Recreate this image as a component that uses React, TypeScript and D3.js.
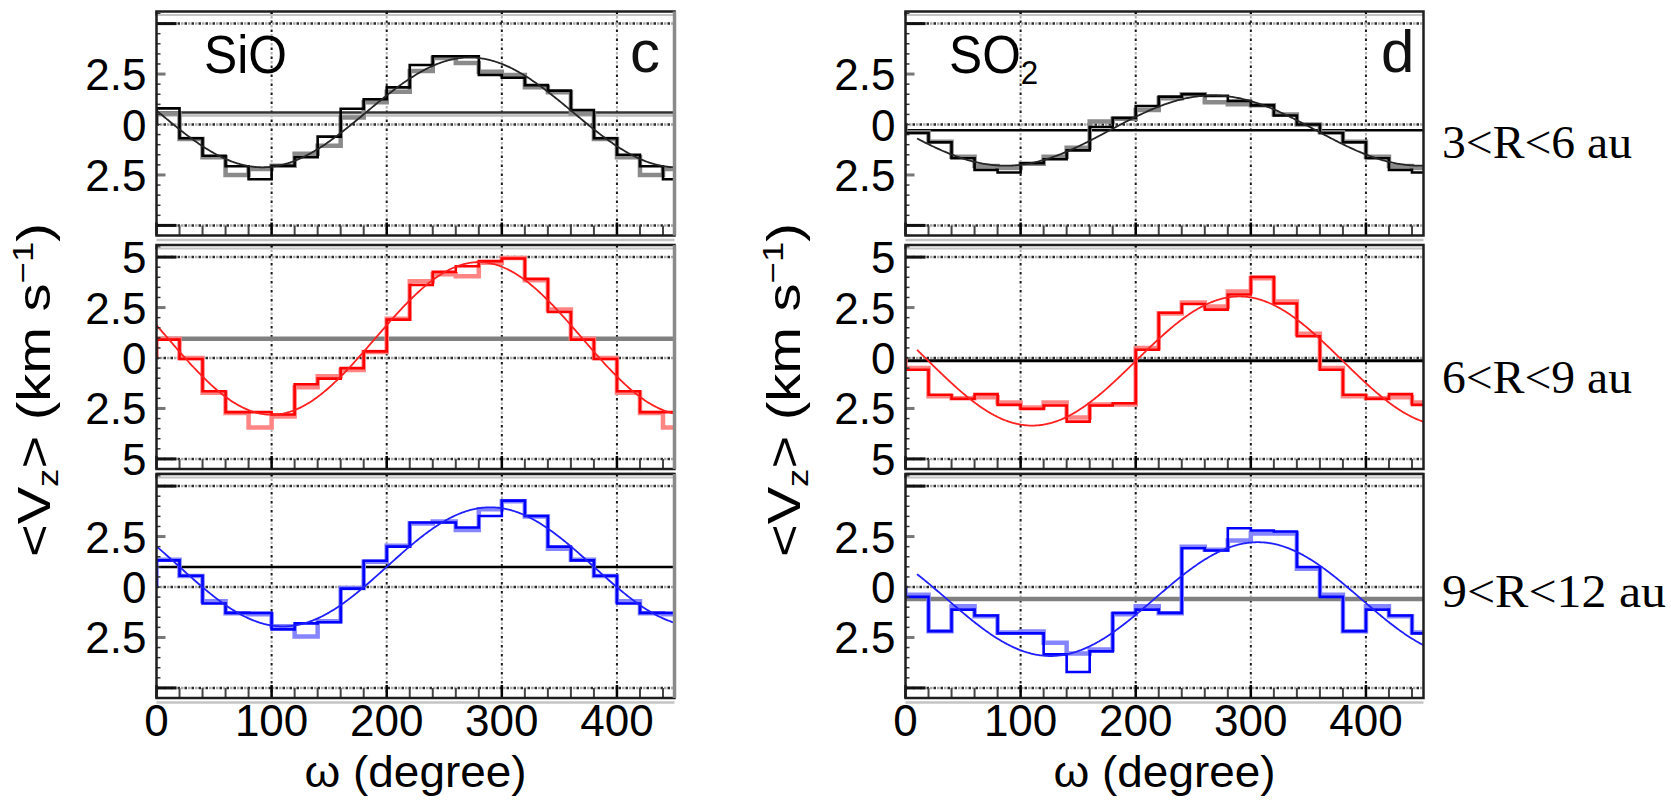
import React from "react";
import * as d3 from "d3";

// ---------- categories / ticks ----------
const binStart = [0, 20, 40, 60, 80, 100, 120, 140, 160, 180, 200, 220, 240, 260, 280, 300, 320, 340, 360, 380, 400, 420, 440];
const xTicks = [0, 100, 200, 300, 400];
const xTickLabels = ["0", "100", "200", "300", "400"];
const yTicksOuter = [2.5, 0, -2.5];
const yTickLabelsOuter = ["2.5", "0", "2.5"];
const yTicksMiddle = [5, 2.5, 0, -2.5, -5];
const yTickLabelsMiddle = ["5", "2.5", "0", "2.5", "5"];
const rowLabels = ["3<R<6 au", "6<R<9 au", "9<R<12 au"];
const panelLetters = ["c", "d"];

// ---------- SiO (left column) ----------
const sioR1Dark = [0.8, -0.68, -1.55, -2.07, -2.71, -2.04, -1.62, -0.6, 0.78, 1.25, 1.84, 2.95, 3.38, 3.38, 2.45, 2.32, 1.95, 1.68, 0.72, -0.68, -1.5, -2.07, -2.71];
const sioR1Light = [0.55, -0.72, -1.62, -2.5, -2.2, -2.04, -1.45, -1.05, 0.35, 1.1, 1.62, 2.65, 3.3, 3.05, 2.62, 2.45, 1.85, 1.6, 0.55, -0.72, -1.62, -2.5, -2.2];
const sioR2Dark = [0.91, -0.05, -1.65, -2.68, -2.68, -2.8, -1.3, -1.02, -0.5, 0.33, 1.9, 3.62, 4.27, 4.55, 4.8, 4.93, 3.92, 2.28, 0.91, -0.05, -1.65, -2.68, -2.68];
const sioR2Light = [0.95, 0.0, -1.72, -2.72, -3.44, -2.9, -1.45, -0.9, -0.6, 0.3, 1.95, 3.8, 4.15, 4.05, 4.72, 4.95, 3.85, 2.4, 0.95, 0.0, -1.72, -2.72, -3.44];
const sioR3Dark = [1.32, 0.56, -0.82, -1.28, -1.28, -2.1, -1.8, -1.75, -0.08, 1.3, 2.0, 3.2, 3.2, 2.95, 3.52, 4.28, 3.52, 2.0, 1.32, 0.56, -0.82, -1.28, -1.28];
const sioR3Light = [1.35, 0.55, -0.7, -1.3, -1.35, -1.95, -2.45, -1.7, -0.05, 1.25, 2.05, 3.15, 3.25, 2.83, 3.85, 4.25, 3.5, 1.9, 1.35, 0.55, -0.7, -1.3, -1.35];

// ---------- SO2 (right column) ----------
const so2R1Dark = [-0.42, -0.88, -1.67, -2.25, -2.38, -1.92, -1.72, -1.28, -0.12, 0.33, 0.92, 1.38, 1.5, 1.42, 1.17, 0.95, 0.45, 0.0, -0.42, -0.88, -1.67, -2.25, -2.38];
const so2R1Light = [-0.38, -0.85, -1.6, -2.05, -2.15, -1.95, -1.6, -1.15, 0.15, 0.28, 0.72, 1.3, 1.5, 1.1, 1.0, 0.95, 0.5, 0.0, -0.38, -0.85, -1.6, -2.05, -2.15];
const so2R2Dark = [-0.58, -1.82, -2.02, -1.79, -2.32, -2.52, -2.35, -3.15, -2.35, -2.24, 0.41, 2.24, 2.68, 2.4, 3.15, 4.02, 2.7, 1.08, -0.58, -1.82, -2.02, -1.79, -2.32];
const so2R2Light = [-0.5, -1.9, -2.0, -1.95, -2.2, -2.45, -2.2, -2.95, -2.3, -2.3, 0.5, 2.2, 2.75, 2.55, 3.3, 3.95, 2.8, 1.2, -0.5, -1.9, -2.0, -1.95, -2.2];
const so2R3Dark = [-0.49, -2.19, -1.12, -1.41, -2.3, -2.3, -3.34, -4.21, -3.19, -1.28, -1.12, -1.28, 1.92, 1.81, 2.91, 2.8, 2.75, 0.99, -0.49, -2.19, -1.12, -1.41, -2.3];
const so2R3Light = [-0.38, -2.19, -0.95, -1.45, -2.25, -2.2, -2.76, -3.3, -3.1, -1.35, -0.95, -1.3, 2.0, 1.85, 2.3, 2.65, 2.65, 0.9, -0.38, -2.19, -0.95, -1.45, -2.25];

// ---------- sinusoidal fits: v = offset - amp*cos(w - wMin) ----------
const sioFitOffset = [0.6, 0.97, 1.0];
const sioFitAmp = [2.72, 3.78, 2.95];
const sioFitMin = [92, 100, 110];
const so2FitOffset = [-0.3, -0.15, -0.6];
const so2FitAmp = [1.74, 3.2, 2.82];
const so2FitMin = [87, 110, 126];
const fitStartDeg = [0, 10];

// systemic velocity lines
const sioSysLine = [0.6, 0.96, 0.99];
const so2SysLine = [-0.28, -0.13, -0.59];

// ---------- styles ----------
const rowDark = ["#000000", "#ff0000", "#0000ff"];
const rowLight = ["#8a8a8a", "#ff8585", "#8585ff"];
const rowFit = ["#262626", "#ff2020", "#2020ff"];
const sysColor = [["#333333", "#808080", "#000000"], ["#000000", "#000000", "#808080"]];
const sysWidth = [[2.5, 4.5, 2.5], [2.5, 3, 4.5]];

const SANS = "'Liberation Sans', Arial, sans-serif";
const SERIF = "'Liberation Serif', 'Times New Roman', serif";

const COL_X0 = [156.5, 905.5];
const PLOT_W = 518;
const ROW_Y0 = [11.5, 245, 474];
const PLOT_H = 224;
const Y_DOMAIN = [-5.5, 5.6];
const TICK_FS = 44;

const darkCols = [[sioR1Dark, sioR2Dark, sioR3Dark], [so2R1Dark, so2R2Dark, so2R3Dark]];
const lightCols = [[sioR1Light, sioR2Light, sioR3Light], [so2R1Light, so2R2Light, so2R3Light]];
const fitOff = [sioFitOffset, so2FitOffset];
const fitAmp = [sioFitAmp, so2FitAmp];
const fitMin = [sioFitMin, so2FitMin];
const sysLine = [sioSysLine, so2SysLine];

function stepPath(vals: number[], x: any, y: any) {
  let d = `M${x(0)},${y(0)}`;
  vals.forEach((v, i) => {
    const b = Math.min(binStart[i] + 20, 450);
    d += `V${y(v)}H${x(b)}`;
  });
  return d;
}

function Panel({ col, row }: { col: number; row: number }) {
  const x0 = COL_X0[col];
  const y0 = ROW_Y0[row];
  const x = d3.scaleLinear().domain([0, 450]).range([x0, x0 + PLOT_W]);
  const y = d3.scaleLinear().domain(Y_DOMAIN).range([y0 + PLOT_H, y0]);
  const clipId = `clip-${col}-${row}`;
  const off = fitOff[col][row], amp = fitAmp[col][row], wmin = fitMin[col][row];
  const ws = d3.range(fitStartDeg[col], 450.5, 1);
  const fitLine = d3
    .line<number>()
    .x((w) => x(w))
    .y((w) => y(off - amp * Math.cos(((w - wmin) * Math.PI) / 180)))(ws);
  const yt = row === 1 ? yTicksMiddle : yTicksOuter;
  const ytl = row === 1 ? yTickLabelsMiddle : yTickLabelsOuter;
  const minorY = d3.range(-5.5, 5.51, 0.5);
  const minorX = binStart.filter((b) => b % 100 !== 0);
  const xr = x(450);
  const yb = y0 + PLOT_H;
  return (
    <g>
      <defs>
        <clipPath id={clipId}>
          <rect x={x0} y={y0} width={PLOT_W} height={PLOT_H} />
        </clipPath>
      </defs>
      {/* vertical dotted grid */}
      {xTicks.filter((t) => t > 0).map((t) => (
        <g key={"vg" + t}>
          <line x1={x(t)} x2={x(t)} y1={y0} y2={yb} stroke="#b0b0b0" strokeWidth={2} strokeDasharray="2.5 6.5" strokeDashoffset={-4.5} />
          <line x1={x(t)} x2={x(t)} y1={y0} y2={yb} stroke="#1a1a1a" strokeWidth={2} strokeDasharray="2.5 6.5" />
        </g>
      ))}
      {/* horizontal dotted grid at -5, 0, 5 */}
      {[5, 0, -5].map((v) => (
        <g key={"hg" + v}>
          <line x1={x0} x2={xr} y1={y(v)} y2={y(v)} stroke="#a8a8a8" strokeWidth={2.5} strokeDasharray="2.5 4.5" strokeDashoffset={-3.5} />
          <line x1={x0} x2={xr} y1={y(v)} y2={y(v)} stroke="#2a2a2a" strokeWidth={2.5} strokeDasharray="2.5 4.5" />
        </g>
      ))}
      <g clipPath={`url(#${clipId})`}>
        {/* systemic line */}
        {row === 0 && col === 0 && (
          <line x1={x0} x2={xr} y1={y(sysLine[col][row]) + 3} y2={y(sysLine[col][row]) + 3} stroke="#bdbdbd" strokeWidth={2.5} />
        )}
        <line x1={x0} x2={xr} y1={y(sysLine[col][row])} y2={y(sysLine[col][row])} stroke={sysColor[col][row]} strokeWidth={sysWidth[col][row]} />
        <path d={stepPath(lightCols[col][row], x, y)} fill="none" stroke={rowLight[row]} strokeWidth={4.5} strokeLinejoin="miter" />
        <path d={stepPath(darkCols[col][row], x, y)} fill="none" stroke={rowDark[row]} strokeWidth={2.6} strokeLinejoin="miter" />
        <path d={fitLine || ""} fill="none" stroke={rowFit[row]} strokeWidth={1.8} />
      </g>
      {/* y ticks */}
      {minorY.map((v) => (
        <line key={"my" + v} x1={x0} x2={x0 + 4} y1={y(v)} y2={y(v)} stroke="#333" strokeWidth={1.5} />
      ))}
      {[5, -5].map((v) => (
        <line key={"My" + v} x1={x0} x2={x0 + 20} y1={y(v)} y2={y(v)} stroke="#111" strokeWidth={3} />
      ))}
      {[2.5, -2.5].map((v) => (
        <line key={"my2" + v} x1={x0} x2={x0 + 9} y1={y(v)} y2={y(v)} stroke="#777" strokeWidth={3} />
      ))}
      {/* x ticks */}
      {minorX.map((t) => (
        <line key={"mx" + t} x1={x(t)} x2={x(t)} y1={yb} y2={yb - 10} stroke="#444" strokeWidth={2} />
      ))}
      {xTicks.map((t) => (
        <g key={"Mx" + t}>
          <line x1={x(t)} x2={x(t)} y1={yb} y2={yb - 13} stroke="#000" strokeWidth={2.5} />
          <line x1={x(t)} x2={x(t)} y1={y0} y2={y0 + 4} stroke="#000" strokeWidth={2} />
        </g>
      ))}
      {/* frame */}
      <line x1={x0} x2={xr} y1={y0 + 3.5} y2={y0 + 3.5} stroke="#c4c4c4" strokeWidth={2} />
      <rect x={x0} y={y0} width={PLOT_W} height={PLOT_H} fill="none" stroke="#1e1e1e" strokeWidth={2.5} />
      {col === 0 && <line x1={xr} x2={xr} y1={y0} y2={yb} stroke="#8a8a8a" strokeWidth={3.5} />}
      <line x1={x0} x2={xr} y1={yb + 4.5} y2={yb + 4.5} stroke="#c4c4c4" strokeWidth={2.5} />
      {/* y tick labels */}
      {yt.map((v, i) => (
        <text key={"yl" + i} x={x0 - 10} y={y(v) + 16} textAnchor="end" fontFamily={SANS} fontSize={TICK_FS} fill="#000">
          {ytl[i]}
        </text>
      ))}
      {/* x tick labels on bottom row */}
      {row === 2 &&
        xTicks.map((t, i) => (
          <text key={"xl" + t} x={x(t)} y={736} textAnchor="middle" fontFamily={SANS} fontSize={TICK_FS} fill="#000">
            {xTickLabels[i]}
          </text>
        ))}
      {row === 2 && (
        <text x={x(225)} y={787} textAnchor="middle" fontFamily={SANS} fontSize={45} textLength={222} lengthAdjust="spacingAndGlyphs" fill="#000">
          ω (degree)
        </text>
      )}
      {/* species and panel letter */}
      {row === 0 && col === 0 && (
        <text x={204} y={73} fontFamily={SANS} fontSize={54} textLength={83} lengthAdjust="spacingAndGlyphs" fill="#000">
          SiO
        </text>
      )}
      {row === 0 && col === 1 && (
        <g transform="translate(949,73) scale(0.92,1)">
          <text x={0} y={0} fontFamily={SANS} fontSize={54} fill="#000">
            SO<tspan fontSize={34} dy={11}>2</tspan>
          </text>
        </g>
      )}
      {row === 0 && (
        <text x={col === 0 ? 630 : 1381} y={72} fontFamily={SANS} fontSize={60} fill="#111">
          {panelLetters[col]}
        </text>
      )}
    </g>
  );
}

function YTitle({ cx }: { cx: number }) {
  return (
    <text transform={`translate(${cx},390) rotate(-90)`} textAnchor="middle" fontFamily={SANS} fontSize={46} textLength={334} lengthAdjust="spacingAndGlyphs" fill="#000">
      {"<V"}
      <tspan fontSize={30} dy={8}>z</tspan>
      <tspan dy={-8}>{"> (km s"}</tspan>
      <tspan fontSize={30} dy={-17}>{"−1"}</tspan>
      <tspan dy={17}>{")"}</tspan>
    </text>
  );
}

export default function App() {
  const rowLabelX = [1442, 1442, 1442];
  const rowLabelY = [158, 393, 607];
  const rowLabelLen = [190, 190, 224];
  return (
    <div>
      <style>{`body{margin:0;background:#fff}`}</style>
      <svg width={1671} height={801} style={{ display: "block" }}>
        <rect width={1671} height={801} fill="#fff" />
        {[0, 1].map((c) => [0, 1, 2].map((r) => <Panel key={`${c}-${r}`} col={c} row={r} />))}
        <YTitle cx={50} />
        <YTitle cx={800} />
        {rowLabels.map((t, i) => (
          <text key={t} x={rowLabelX[i]} y={rowLabelY[i]} fontFamily={SERIF} fontSize={46} textLength={rowLabelLen[i]} lengthAdjust="spacingAndGlyphs" fill="#000">
            {t}
          </text>
        ))}
      </svg>
    </div>
  );
}
